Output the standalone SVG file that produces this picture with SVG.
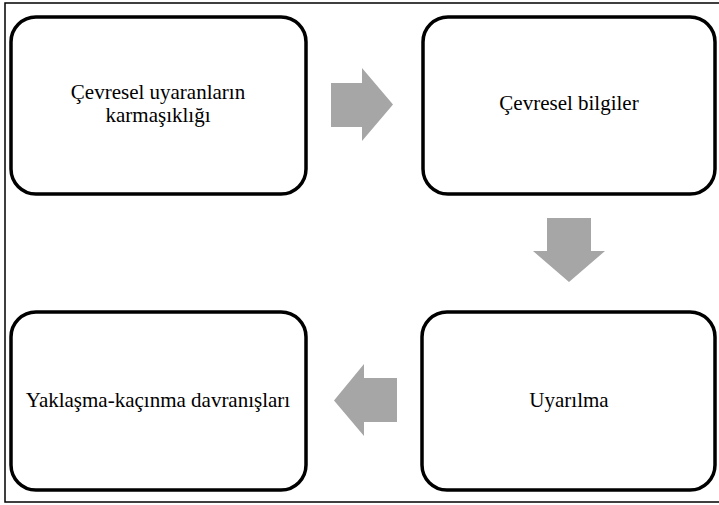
<svg xmlns="http://www.w3.org/2000/svg" width="719" height="505" viewBox="0 0 719 505">
<style>
.frame{fill:#fff;stroke:#000;stroke-width:1.5}
.box{fill:#fff;stroke:#000;stroke-width:3.5}
.lbl{font-family:'Liberation Serif','Times New Roman',serif;font-size:21px;fill:#000;text-anchor:middle}
.arr{fill:#a6a6a6;stroke:none}
</style>
<rect class="frame" x="5" y="3" width="720" height="499"/>
<g id="node-cevresel-uyaranlar">
<rect class="box" x="11" y="17" width="295" height="177" rx="25"/>
<text class="lbl" x="158" y="99">Çevresel uyaranların</text>
<text class="lbl" x="158" y="122">karmaşıklığı</text>
</g>
<g id="node-cevresel-bilgiler">
<rect class="box" x="423" y="17" width="292" height="177" rx="25"/>
<text class="lbl" x="569" y="110">Çevresel bilgiler</text>
</g>
<g id="node-uyarilma">
<rect class="box" x="422" y="312" width="293" height="178" rx="25"/>
<text class="lbl" x="569" y="407">Uyarılma</text>
</g>
<g id="node-yaklasma">
<rect class="box" x="11" y="312" width="295" height="178" rx="25"/>
<text class="lbl" x="158" y="407">Yaklaşma-kaçınma davranışları</text>
</g>
<g id="connectors">
<polygon class="arr" points="331,83 362,83 362,68 393,104.5 362,141 362,127 331,127"/>
<polygon class="arr" points="547,218 591,218 591,251 605,251 569,282 533,251 547,251"/>
<polygon class="arr" points="397,378 364,378 364,364 334,400.5 364,436 364,422 397,422"/>
</g>
</svg>
